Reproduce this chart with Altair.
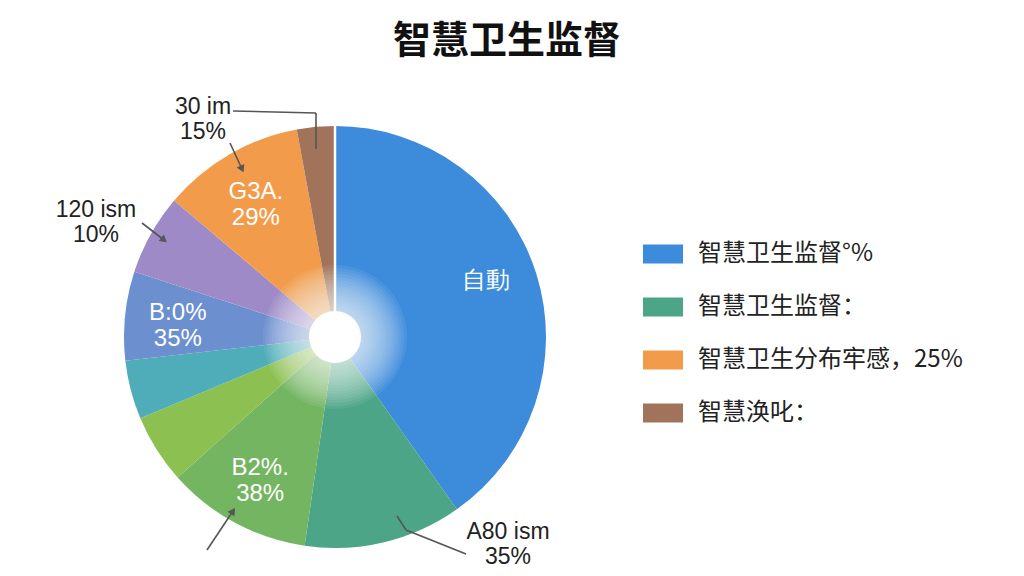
import altair as alt
import pandas as pd

# ---- data ----
categories = ["智慧卫生监督°%", "智慧卫生监督：", "智慧绿", "智慧黄绿", "智慧青", "智慧蓝紫", "智慧紫",
              "智慧卫生分布牢感，25%", "智慧涣叱："]
values = [40.2, 12.1, 11.1, 5.3, 4.5, 6.8, 6.2, 10.9, 2.9]
colors = ["#3d8bdb", "#4ca586", "#74b562", "#8cc152", "#4eadb9", "#6c8fcf", "#9d8ac7", "#f29c4b", "#a0735a"]
inner_labels = ["自動", "", "B2%.\n38%", "", "", "B:0%\n35%", "", "G3A.\n29%", ""]
legend_items = [categories[0], categories[1], categories[7], categories[8]]
outer_labels = ["30 im\n15%", "120 ism\n10%", "A80 ism\n35%"]
title_text = "智慧卫生监督"

FONT = "Liberation Sans"
CJK = "Noto Sans CJK SC"
CX, CY = 327, 329
W, H = 1008, 560

df = pd.DataFrame({"cat": categories, "val": values, "idx": list(range(len(values))), "lab": inner_labels})

base = alt.Chart(df).encode(
    theta=alt.Theta("val:Q", stack=True),
    order=alt.Order("idx:Q"),
    x=alt.value(CX), y=alt.value(CY),
)

pie = base.mark_arc(outerRadius=211, innerRadius=0).encode(
    color=alt.Color(
        "cat:N",
        scale=alt.Scale(domain=categories, range=colors),
        legend=alt.Legend(
            values=legend_items, title=None, orient="none", legendX=635, legendY=226,
            symbolType="M-1,-0.475H1V0.475H-1Z", symbolSize=1600, symbolStrokeWidth=0,
            labelFont=CJK, labelFontSize=24, labelColor="#222222", labelOffset=15,
            labelLimit=400, rowPadding=21,
        ),
    )
)

inner_text = base.mark_text(radius=158, dy=-8, color="white", fontSize=24, font=FONT, lineBreak="\n",
                            baseline="middle", align="center", lineHeight=26).encode(text="lab:N")

# divider between first and last slice
divider = alt.Chart(df.head(1)).mark_rule(color="white", strokeWidth=2.5).encode(
    x=alt.value(CX), y=alt.value(CY), x2=alt.value(CX), y2=alt.value(CY - 212))

glow = []
for r in range(72, 26, -3):
    glow.append(
        alt.Chart(df.head(1)).mark_arc(theta=0, theta2=6.2832, outerRadius=r, innerRadius=0,
                                       color="white", opacity=0.07)
        .encode(x=alt.value(CX), y=alt.value(CY))
    )
glow.append(
    alt.Chart(df.head(1)).mark_arc(theta=0, theta2=6.2832, outerRadius=26, innerRadius=0,
                                   color="white", opacity=1)
    .encode(x=alt.value(CX), y=alt.value(CY))
)

# outer annotation labels
ann = pd.DataFrame({"t": outer_labels})
def label(i, x, y):
    return alt.Chart(ann.iloc[[i]]).mark_text(fontSize=23, font=FONT, color="#222222", lineBreak="\n",
                                              baseline="middle", align="center", lineHeight=25).encode(
        text="t:N", x=alt.value(x), y=alt.value(y))

labels = [label(0, 195, 99), label(1, 88, 202), label(2, 500, 524)]

def seg(x1, y1, x2, y2):
    return alt.Chart(df.head(1)).mark_rule(color="#555555", strokeWidth=1.6).encode(
        x=alt.value(x1), y=alt.value(y1), x2=alt.value(x2), y2=alt.value(y2))

def head(x, y, ang):
    return alt.Chart(df.head(1)).mark_point(shape="triangle-up", filled=True, size=70, color="#555555",
                                            angle=ang, opacity=1).encode(x=alt.value(x), y=alt.value(y))

lines = [
    seg(225, 103, 308, 105), seg(308, 105, 308, 141),
    seg(222, 135, 234, 161), head(234, 161, 155),
    seg(134, 215, 156, 232), head(156, 232, 129),
    seg(199, 542, 225, 503), head(225, 503, 34),
    seg(389, 508, 398, 522), seg(398, 522, 458, 546),
]

title = alt.Chart(df.head(1)).mark_text(text=title_text, fontSize=38, fontWeight="bold", font=CJK,
                                        color="#111111", baseline="middle", align="center").encode(
    x=alt.value(499), y=alt.value(34))

chart = alt.layer(pie, divider, *glow, inner_text, *labels, *lines, title).properties(
    width=W, height=H, autosize=alt.AutoSizeParams(type="none"), padding=0, background="white"
).configure_view(stroke=None)

chart.save("out.html", embed_options={"renderer": "svg", "actions": False})
